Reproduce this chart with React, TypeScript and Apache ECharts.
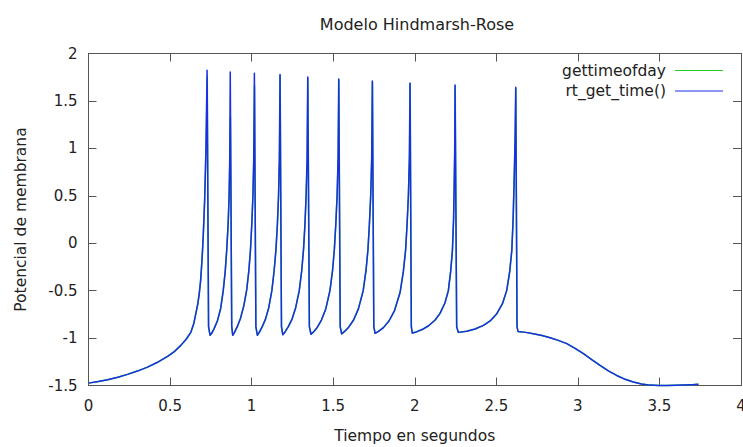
import React, { useEffect, useRef } from "react";
import * as echarts from "echarts";

// Axis settings
const xTicks = [0, 0.5, 1, 1.5, 2, 2.5, 3, 3.5, 4];
const yTicks = [-1.5, -1, -0.5, 0, 0.5, 1, 1.5, 2];

const titleText = "Modelo Hindmarsh-Rose";
const xName = "Tiempo en segundos";
const yName = "Potencial de membrana";
const seriesNames = ["gettimeofday", "rt_get_time()"];

// rt_get_time() series: [time (s), membrane potential]
const rtGetTime: [number, number][] = [
  [0, -1.475], [0.06, -1.458], [0.117, -1.439], [0.18, -1.413], [0.239, -1.383], [0.3, -1.348],
  [0.362, -1.306], [0.42, -1.258], [0.485, -1.193], [0.53, -1.137], [0.566, -1.077], [0.6, -1.01],
  [0.628, -0.937], [0.645, -0.85], [0.658, -0.743], [0.67, -0.64], [0.679, -0.532], [0.687, -0.4],
  [0.693, -0.251], [0.699, -0.08], [0.704, 0.1], [0.712, 0.45], [0.72, 1.0], [0.727, 1.824],
  [0.736, -0.88], [0.745, -0.97],
  [0.755, -0.95], [0.77, -0.9], [0.79, -0.82], [0.81, -0.69], [0.826, -0.5], [0.838, -0.3],
  [0.847, -0.08], [0.856, 0.2], [0.862, 0.5], [0.866, 0.9], [0.869, 1.806], [0.878, -0.88], [0.884, -0.97],
  [0.895, -0.94], [0.912, -0.88], [0.932, -0.79], [0.952, -0.66], [0.97, -0.49], [0.983, -0.29],
  [0.993, -0.07], [1.001, 0.2], [1.008, 0.5], [1.013, 0.9], [1.017, 1.792], [1.026, -0.88], [1.035, -0.97],
  [1.047, -0.94], [1.065, -0.88], [1.085, -0.8], [1.105, -0.68], [1.124, -0.5], [1.138, -0.29],
  [1.149, -0.07], [1.158, 0.2], [1.165, 0.5], [1.17, 0.9], [1.174, 1.778], [1.183, -0.88], [1.191, -0.965],
  [1.205, -0.935], [1.225, -0.88], [1.248, -0.8], [1.27, -0.68], [1.292, -0.5], [1.307, -0.29],
  [1.318, -0.07], [1.327, 0.2], [1.334, 0.5], [1.34, 0.9], [1.344, 1.753], [1.354, -0.88], [1.364, -0.96],
  [1.38, -0.935], [1.403, -0.885], [1.428, -0.81], [1.455, -0.69], [1.48, -0.5], [1.496, -0.29],
  [1.507, -0.07], [1.516, 0.2], [1.524, 0.5], [1.53, 0.9], [1.534, 1.732], [1.543, -0.88], [1.552, -0.955],
  [1.57, -0.93], [1.595, -0.885], [1.625, -0.81], [1.655, -0.69], [1.684, -0.5], [1.701, -0.29],
  [1.713, -0.07], [1.722, 0.2], [1.73, 0.5], [1.736, 0.9], [1.74, 1.711], [1.749, -0.88], [1.757, -0.95],
  [1.778, -0.93], [1.808, -0.89], [1.842, -0.82], [1.876, -0.71], [1.91, -0.52], [1.93, -0.3],
  [1.944, -0.07], [1.953, 0.2], [1.961, 0.5], [1.967, 0.9], [1.971, 1.69], [1.979, -0.88], [1.985, -0.947],
  [2.01, -0.935], [2.045, -0.91], [2.085, -0.87], [2.125, -0.81], [2.155, -0.74], [2.185, -0.63],
  [2.206, -0.5], [2.22, -0.3], [2.231, -0.075], [2.238, 0.25], [2.242, 0.63], [2.245, 1.0],
  [2.247, 1.669], [2.257, -0.88], [2.267, -0.94],
  [2.319, -0.929], [2.37, -0.905], [2.421, -0.866], [2.465, -0.815], [2.503, -0.743], [2.537, -0.64],
  [2.564, -0.497], [2.582, -0.3], [2.595, -0.075], [2.603, 0.25], [2.609, 0.63], [2.615, 1.1],
  [2.619, 1.645], [2.627, -0.88], [2.633, -0.93],
  [2.68, -0.94], [2.727, -0.954], [2.78, -0.972], [2.83, -0.996], [2.88, -1.024], [2.932, -1.059],
  [2.983, -1.108], [3.034, -1.165], [3.085, -1.228], [3.136, -1.288], [3.187, -1.345], [3.238, -1.394],
  [3.29, -1.435], [3.34, -1.464], [3.39, -1.484], [3.443, -1.496], [3.495, -1.5], [3.545, -1.499],
  [3.6, -1.498], [3.647, -1.496], [3.7, -1.492], [3.739, -1.488],
];

// gettimeofday series: [time (s), membrane potential]
const gettimeofday: [number, number][] = [
  [0, -1.475], [0.06, -1.458], [0.117, -1.439], [0.18, -1.413], [0.239, -1.383], [0.3, -1.348],
  [0.362, -1.306], [0.42, -1.258], [0.485, -1.193], [0.53, -1.137], [0.566, -1.077], [0.6, -1.01],
  [0.628, -0.937], [0.645, -0.85], [0.658, -0.743], [0.67, -0.64], [0.679, -0.532], [0.687, -0.4],
  [0.693, -0.251], [0.699, -0.08], [0.704, 0.1], [0.712, 0.45], [0.721, 1.0], [0.728, 1.75],
  [0.736, -0.88], [0.745, -0.97],
  [0.755, -0.95], [0.77, -0.9], [0.79, -0.82], [0.81, -0.69], [0.826, -0.5], [0.838, -0.3],
  [0.847, -0.08], [0.856, 0.2], [0.862, 0.5], [0.867, 0.9], [0.87, 1.33], [0.878, -0.88], [0.884, -0.97],
  [0.895, -0.94], [0.912, -0.88], [0.932, -0.79], [0.952, -0.66], [0.97, -0.49], [0.983, -0.29],
  [0.993, -0.07], [1.001, 0.2], [1.008, 0.5], [1.014, 0.9], [1.018, 1.66], [1.026, -0.88], [1.035, -0.97],
  [1.047, -0.94], [1.065, -0.88], [1.085, -0.8], [1.105, -0.68], [1.124, -0.5], [1.138, -0.29],
  [1.149, -0.07], [1.158, 0.2], [1.165, 0.5], [1.171, 0.9], [1.175, 1.77], [1.183, -0.88], [1.191, -0.965],
  [1.205, -0.935], [1.225, -0.88], [1.248, -0.8], [1.27, -0.68], [1.292, -0.5], [1.307, -0.29],
  [1.318, -0.07], [1.327, 0.2], [1.334, 0.5], [1.341, 0.9], [1.345, 1.74], [1.354, -0.88], [1.364, -0.96],
  [1.38, -0.935], [1.403, -0.885], [1.428, -0.81], [1.455, -0.69], [1.48, -0.5], [1.496, -0.29],
  [1.507, -0.07], [1.516, 0.2], [1.524, 0.5], [1.531, 0.9], [1.535, 1.72], [1.543, -0.88], [1.552, -0.955],
  [1.57, -0.93], [1.595, -0.885], [1.625, -0.81], [1.655, -0.69], [1.684, -0.5], [1.701, -0.29],
  [1.713, -0.07], [1.722, 0.2], [1.73, 0.5], [1.737, 0.9], [1.741, 1.7], [1.749, -0.88], [1.757, -0.95],
  [1.778, -0.93], [1.808, -0.89], [1.842, -0.82], [1.876, -0.71], [1.91, -0.52], [1.93, -0.3],
  [1.944, -0.07], [1.953, 0.2], [1.961, 0.5], [1.968, 0.9], [1.972, 1.68], [1.979, -0.88], [1.985, -0.947],
  [2.01, -0.935], [2.045, -0.91], [2.085, -0.87], [2.125, -0.81], [2.155, -0.74], [2.185, -0.63],
  [2.206, -0.5], [2.22, -0.3], [2.231, -0.075], [2.238, 0.25], [2.242, 0.63], [2.246, 1.0],
  [2.248, 1.66], [2.257, -0.88], [2.267, -0.94],
  [2.319, -0.929], [2.37, -0.905], [2.421, -0.866], [2.465, -0.815], [2.503, -0.743], [2.537, -0.64],
  [2.564, -0.497], [2.582, -0.3], [2.595, -0.075], [2.603, 0.25], [2.609, 0.63], [2.616, 1.1],
  [2.62, 1.63], [2.627, -0.88], [2.633, -0.93],
  [2.68, -0.94], [2.727, -0.954], [2.78, -0.972], [2.83, -0.996], [2.88, -1.024], [2.932, -1.059],
  [2.983, -1.108], [3.034, -1.165], [3.085, -1.228], [3.136, -1.288], [3.187, -1.345], [3.238, -1.394],
  [3.29, -1.435], [3.34, -1.464], [3.39, -1.484], [3.443, -1.496], [3.495, -1.5], [3.545, -1.499],
  [3.6, -1.498], [3.647, -1.496], [3.7, -1.492], [3.739, -1.488],
];

const FONT = "DejaVu Sans";
const TEXT = "#222";
const AXIS = "#555";
const GREEN = "#22cc22";
const BLUE = "#1a2ee8";

export default function App() {
  const ref = useRef<HTMLDivElement>(null);
  useEffect(() => {
    if (!ref.current) return;
    const chart = echarts.init(ref.current, undefined, { renderer: "svg" });
    const xMin = xTicks[0];
    const xMax = xTicks[xTicks.length - 1];
    const xStep = xTicks[1] - xTicks[0];
    const yMin = yTicks[0];
    const yMax = yTicks[yTicks.length - 1];
    const yStep = yTicks[1] - yTicks[0];
    const axisCommon = {
      axisLine: { show: true, onZero: false, lineStyle: { color: AXIS, width: 1 } },
      axisTick: { show: true, inside: true, length: 8, lineStyle: { color: AXIS, width: 1 } },
      splitLine: { show: false },
    };
    const legendColors = [GREEN, BLUE];
    const legendRows = [70.5, 91];
    const legendGraphics: any[] = [];
    seriesNames.forEach((name, i) => {
      legendGraphics.push({
        type: "text",
        x: 666,
        y: legendRows[i],
        style: {
          text: name,
          fontFamily: FONT,
          fontSize: 15.5,
          fill: TEXT,
          align: "right",
          verticalAlign: "middle",
        },
      });
      legendGraphics.push({
        type: "line",
        shape: { x1: 675, y1: legendRows[i], x2: 723, y2: legendRows[i] },
        style: { stroke: legendColors[i], lineWidth: 1.2 },
      });
    });
    chart.setOption({
      animation: false,
      backgroundColor: "#ffffff",
      title: {
        text: titleText,
        left: 412,
        textAlign: "center",
        top: 11,
        textStyle: { fontFamily: FONT, fontSize: 16, fontWeight: "normal", color: TEXT },
      },
      graphic: legendGraphics,
      grid: {
        left: 88.5,
        top: 53.5,
        width: 652.5,
        height: 332,
        containLabel: false,
        outerBoundsMode: "none",
      },
      xAxis: [
        {
          type: "value",
          min: xMin,
          max: xMax,
          interval: xStep,
          position: "bottom",
          name: xName,
          nameLocation: "middle",
          nameGap: 42,
          nameTextStyle: { fontFamily: FONT, fontSize: 15.5, color: TEXT },
          axisLabel: { margin: 13, fontFamily: FONT, fontSize: 15, color: TEXT },
          ...axisCommon,
        },
        {
          type: "value",
          min: xMin,
          max: xMax,
          interval: xStep,
          position: "top",
          axisLabel: { show: false },
          ...axisCommon,
        },
      ],
      yAxis: [
        {
          type: "value",
          min: yMin,
          max: yMax,
          interval: yStep,
          position: "left",
          name: yName,
          nameLocation: "middle",
          nameGap: 60,
          nameTextStyle: { fontFamily: FONT, fontSize: 15.5, color: TEXT },
          axisLabel: { margin: 11, fontFamily: FONT, fontSize: 15, color: TEXT },
          ...axisCommon,
        },
        {
          type: "value",
          min: yMin,
          max: yMax,
          interval: yStep,
          position: "right",
          axisLabel: { show: false },
          ...axisCommon,
        },
      ],
      series: [
        {
          name: seriesNames[0],
          type: "line",
          data: gettimeofday,
          showSymbol: false,
          symbol: "none",
          lineStyle: { color: GREEN, width: 1.5, join: "round" },
          itemStyle: { color: GREEN },
          clip: false,
        },
        {
          name: seriesNames[1],
          type: "line",
          data: rtGetTime,
          showSymbol: false,
          symbol: "none",
          lineStyle: { color: BLUE, width: 1.5, join: "round" },
          itemStyle: { color: BLUE },
          clip: false,
        },
      ],
    });
    return () => chart.dispose();
  }, []);
  return <div ref={ref} style={{ width: 743, height: 447, position: "fixed", left: 0, top: 0 }} />;
}
